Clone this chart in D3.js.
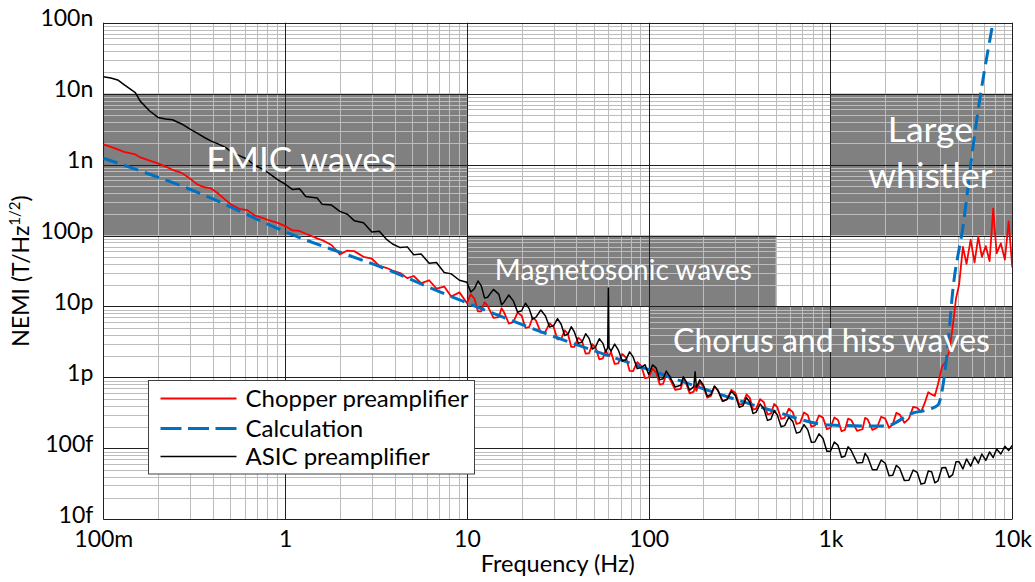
<!DOCTYPE html>
<html>
<head>
<meta charset="utf-8">
<script src="https://cdn.jsdelivr.net/npm/d3@7"></script>
<style>
  body { margin: 0; background: #fff; }
  text { font-family: Lato, "Open Sans", sans-serif; }
</style>
</head>
<body>
<svg id="chart" width="1035" height="582"></svg>
<script>
// measured spectra share one frequency grid (Hz)
const freq = [
  0.1, 0.11, 0.12, 0.13, 0.15, 0.16, 0.18, 0.2, 0.22, 0.24, 0.27, 0.3, 0.33, 0.36, 0.39, 0.43, 0.47, 0.51, 0.56, 0.62, 0.68, 0.75, 0.82, 0.91,
  1, 1.1, 1.2, 1.3, 1.5, 1.6, 1.8, 2, 2.2, 2.4, 2.7, 3, 3.3, 3.6, 3.9, 4.3, 4.7, 5.1, 5.6, 6.2, 6.8, 7.5, 8.2, 9.1,
  10, 10.5, 11, 11.5, 12, 12.5, 13, 14, 15, 15.5, 16, 17, 18, 19, 20, 21, 22, 23, 24, 25.5,
  27, 28.5, 30, 31.5, 33, 34.5, 36, 37.5, 39, 41, 43, 45, 47, 49, 51, 53.5, 56, 58, 59.5, 60,
  60.5, 62, 65, 68, 71.5, 75, 78.5, 82, 86.5, 91, 95.5,
  100, 105, 110, 115, 120, 125, 130, 140, 150, 155, 160, 168, 177, 180, 183, 191, 200, 210, 220, 230,
  240, 255, 270, 285, 300, 315, 330, 345, 360, 375, 390, 410, 430, 450, 470, 490, 510, 535, 560, 590,
  620, 650, 680, 715, 750, 785, 820, 865, 910, 955,
  1000, 1050, 1100, 1150, 1200, 1250, 1300, 1400, 1500, 1550, 1600, 1700, 1800, 1900, 2000, 2100, 2200, 2300, 2400, 2550,
  2700, 2850, 3000, 3150, 3300, 3450, 3600, 3750, 3900, 4100, 4300, 4500, 4700, 4900, 5100, 5350, 5600, 5900, 6200, 6500,
  6800, 7150, 7500, 7850, 8200, 8650, 9100, 9550,
  10000
];

// NEMI, T/Hz^1/2
const chopper = [
  1.93e-9, 1.78e-9, 1.64e-9, 1.51e-9, 1.39e-9, 1.26e-9, 1.14e-9, 1.04e-9, 9.38e-10, 8.45e-10, 7.64e-10, 6.35e-10, 5.21e-10, 4.79e-10, 4.65e-10, 3.87e-10, 3.18e-10, 2.68e-10, 2.38e-10, 2.28e-10, 1.92e-10, 1.77e-10, 1.63e-10, 1.51e-10,
  1.36e-10, 1.18e-10, 1.16e-10, 1.06e-10, 9.14e-11, 8.61e-11, 7.35e-11, 5.43e-11, 6.14e-11, 6.03e-11, 5.01e-11, 4.71e-11, 3.73e-11, 3.51e-11, 3.21e-11, 2.96e-11, 2.51e-11, 2.69e-11, 2.14e-11, 2.34e-11, 1.78e-11, 1.91e-11, 1.38e-11, 1.58e-11,
  1.12e-11, 1.48e-11, 1.29e-11, 8.51e-12, 8.51e-12, 1.15e-11, 1.02e-11, 6.92e-12, 7.08e-12, 9.44e-12, 8.32e-12, 5.75e-12, 6.03e-12, 8.22e-12, 7.41e-12, 5.01e-12, 5.13e-12, 7.00e-12, 6.31e-12, 4.27e-12,
  4.37e-12, 5.82e-12, 5.13e-12, 3.43e-12, 3.47e-12, 4.62e-12, 4.07e-12, 2.69e-12, 2.69e-12, 3.63e-12, 3.24e-12, 2.16e-12, 2.19e-12, 2.95e-12, 2.63e-12, 1.80e-12, 1.86e-12, 2.43e-12, 2.09e-12, 2.04e-12,
  2.0e-12, 2.29e-12, 1.55e-12, 1.58e-12, 2.14e-12, 1.91e-12, 1.24e-12, 1.23e-12, 1.64e-12, 1.45e-12, 9.77e-13,
  1.0e-12, 1.33e-12, 1.17e-12, 7.94e-13, 8.13e-13, 1.10e-12, 9.77e-13, 6.68e-13, 6.92e-13, 9.44e-13, 8.51e-13, 5.96e-13, 6.31e-13, 7.59e-13, 6.46e-13, 8.51e-13, 7.41e-13, 5.19e-13, 5.50e-13, 7.41e-13,
  6.61e-13, 4.62e-13, 4.90e-13, 6.68e-13, 6.03e-13, 4.12e-13, 4.27e-13, 5.75e-13, 5.13e-13, 3.51e-13, 3.63e-13, 4.95e-13, 4.47e-13, 3.02e-13, 3.09e-13, 4.22e-13, 3.80e-13, 2.60e-13, 2.69e-13, 3.63e-13,
  3.24e-13, 2.21e-13, 2.29e-13, 3.20e-13, 2.95e-13, 2.02e-13, 2.09e-13, 2.92e-13, 2.69e-13, 1.86e-13,
  1.95e-13, 2.72e-13, 2.51e-13, 1.74e-13, 1.82e-13, 2.63e-13, 2.51e-13, 1.76e-13, 1.86e-13, 2.69e-13, 2.57e-13, 1.82e-13, 1.95e-13, 2.79e-13, 2.63e-13, 1.95e-13, 2.19e-13, 3.16e-13, 3.02e-13, 2.29e-13,
  2.63e-13, 3.85e-13, 3.72e-13, 3.27e-13, 4.37e-13, 6.17e-13, 5.75e-13, 5.50e-13, 7.94e-13, 1.41e-12, 1.66e-12, 2.34e-12, 5.13e-12, 1.29e-11, 2.04e-11, 6.92e-11, 3.98e-11, 8.71e-11, 4.17e-11, 9.55e-11,
  5.01e-11, 7.08e-11, 4.37e-11, 2.40e-10, 5.62e-11, 7.76e-11, 4.57e-11, 1.58e-10,
  3.55e-11
];

const asic = [
  1.73e-8, 1.66e-8, 1.56e-8, 1.34e-8, 1.03e-8, 7.78e-9, 5.69e-9, 4.62e-9, 4.39e-9, 4.28e-9, 3.74e-9, 3.16e-9, 2.75e-9, 2.41e-9, 2.16e-9, 1.94e-9, 1.75e-9, 1.49e-9, 1.34e-9, 1.19e-9, 9.72e-10, 8.67e-10, 7.46e-10, 6.14e-10,
  5.32e-10, 4.45e-10, 4.57e-10, 3.55e-10, 3.39e-10, 2.75e-10, 2.69e-10, 2.19e-10, 2.0e-10, 1.62e-10, 1.51e-10, 1.12e-10, 1.15e-10, 8.91e-11, 7.59e-11, 6.76e-11, 6.92e-11, 5.37e-11, 5.50e-11, 4.07e-11, 4.17e-11, 3.02e-11, 2.88e-11, 2.34e-11,
  2.19e-11, 1.60e-11, 1.78e-11, 2.29e-11, 1.95e-11, 1.32e-11, 1.35e-11, 1.74e-11, 1.48e-11, 1.06e-11, 1.15e-11, 1.45e-11, 1.20e-11, 8.32e-12, 8.71e-12, 1.11e-11, 9.33e-12, 6.61e-12, 7.08e-12, 8.91e-12,
  7.41e-12, 5.13e-12, 5.37e-12, 6.76e-12, 5.62e-12, 3.89e-12, 4.07e-12, 5.19e-12, 4.37e-12, 3.02e-12, 3.16e-12, 4.12e-12, 3.55e-12, 2.51e-12, 2.69e-12, 3.51e-12, 3.02e-12, 2.29e-12, 2.63e-12, 1.82e-11,
  2.63e-12, 2.34e-12, 2.95e-12, 2.45e-12, 1.70e-12, 1.78e-12, 2.29e-12, 1.95e-12, 1.33e-12, 1.38e-12, 1.51e-12,
  1.10e-12, 1.50e-12, 1.35e-12, 9.23e-13, 9.55e-13, 1.23e-12, 1.05e-12, 7.33e-13, 7.76e-13, 1.02e-12, 8.91e-13, 6.61e-13, 7.41e-13, 1.20e-12, 7.24e-13, 9.23e-13, 7.76e-13, 5.43e-13, 5.75e-13, 7.59e-13,
  6.61e-13, 4.62e-13, 4.90e-13, 6.38e-13, 5.50e-13, 3.80e-13, 3.98e-13, 5.19e-13, 4.47e-13, 3.09e-13, 3.24e-13, 4.22e-13, 3.63e-13, 2.48e-13, 2.57e-13, 3.39e-13, 2.95e-13, 2.02e-13, 2.09e-13, 2.75e-13,
  2.40e-13, 1.64e-13, 1.70e-13, 2.16e-13, 1.82e-13, 1.22e-13, 1.23e-13, 1.60e-13, 1.38e-13, 9.12e-14,
  9.12e-14, 1.23e-13, 1.10e-13, 7.50e-14, 7.76e-14, 1.05e-13, 9.33e-14, 6.24e-14, 6.31e-14, 8.51e-14, 7.59e-14, 5.01e-14, 5.01e-14, 6.84e-14, 6.17e-14, 4.12e-14, 4.17e-14, 5.75e-14, 5.25e-14, 3.51e-14,
  3.55e-14, 4.95e-14, 4.57e-14, 3.13e-14, 3.24e-14, 4.79e-14, 4.68e-14, 3.27e-14, 3.47e-14, 5.31e-14, 5.37e-14, 3.89e-14, 4.27e-14, 6.46e-14, 6.46e-14, 5.13e-14, 7.08e-14, 5.62e-14, 7.59e-14, 6.17e-14,
  8.32e-14, 6.76e-14, 8.91e-14, 7.41e-14, 9.77e-14, 8.32e-14, 1.07e-13, 9.33e-14,
  1.10e-13
];

const calcFreq = [0.1, 0.34, 1, 3.9, 7.1, 28.6, 100, 209, 465, 1000, 2000, 2840, 3530, 3900, 4370, 4710, 5350, 6220, 7820];
const calc = [1.23e-9, 3.94e-10, 1.13e-10, 3.09e-11, 1.61e-11, 3.96e-12, 1.29e-12, 6.65e-13, 3.48e-13, 2.13e-13, 2.06e-13, 3.15e-13, 3.59e-13, 4.09e-13, 2.07e-12, 1.71e-11, 1.32e-10, 2.79e-9, 9.9e-8];

const xTicks = [0.1, 1, 10, 100, 1000, 10000];
const xTickLabels = ['100m', '1', '10', '100', '1k', '10k'];
const yTicks = [1e-14, 1e-13, 1e-12, 1e-11, 1e-10, 1e-9, 1e-8, 1e-7];
const yTickLabels = ['10f', '100f', '1p', '10p', '100p', '1n', '10n', '100n'];

// wave bands: frequency range and field range
const bandLines = [['EMIC waves'], ['Magnetosonic waves'], ['Chorus and hiss waves'], ['Large', 'whistler']];
const bandFreqLo = [0.1, 10, 100, 1000];
const bandFreqHi = [10, 500, 10000, 10000];
const bandLo = [1e-10, 1e-11, 1e-12, 1e-10];
const bandHi = [1e-8, 1e-10, 1e-11, 1e-8];

const seriesNames = ['Chopper preamplifier', 'Calculation', 'ASIC preamplifier'];

// layout
const plotLeft = 103.3, plotRight = 1012.3, plotTop = 22.7, plotBottom = 519.3;
const labelSize = [35, 28, 32, 35.5];
const labelDx = [16, 2, 1, 9];
const labelDy = [7.5, 9, 10, -22.8];
const lineGap = 46.6;

const svg = d3.select('#chart');

const x = d3.scaleLog().domain([0.1, 10000]).range([plotLeft, plotRight]);
const y = d3.scaleLog().domain([1e-14, 1e-7]).range([plotBottom, plotTop]);

const snap = v => Math.round(v) + 0.5;
const isDecade = d => Math.abs(Math.log10(d) - Math.round(Math.log10(d))) < 1e-9;

// grey wave bands
svg.append('g').selectAll('rect')
  .data(bandLines)
  .join('rect')
  .attr('x', (d, i) => x(bandFreqLo[i]))
  .attr('y', (d, i) => y(bandHi[i]))
  .attr('width', (d, i) => x(bandFreqHi[i]) - x(bandFreqLo[i]))
  .attr('height', (d, i) => y(bandLo[i]) - y(bandHi[i]))
  .attr('fill', '#808080');

// minor grid then major grid
const xGrid = x.ticks();
const yGrid = y.ticks();

const grid = svg.append('g');
grid.selectAll('.vminor')
  .data(xGrid.filter(d => !isDecade(d)))
  .join('line')
  .attr('x1', d => snap(x(d))).attr('x2', d => snap(x(d)))
  .attr('y1', plotTop).attr('y2', plotBottom)
  .attr('stroke', '#bcbcbc').attr('stroke-width', 1);
grid.selectAll('.hminor')
  .data(yGrid.filter(d => !isDecade(d)))
  .join('line')
  .attr('x1', plotLeft).attr('x2', plotRight)
  .attr('y1', d => snap(y(d))).attr('y2', d => snap(y(d)))
  .attr('stroke', '#bcbcbc').attr('stroke-width', 1);
grid.selectAll('.vmajor')
  .data(xTicks)
  .join('line')
  .attr('x1', d => snap(x(d))).attr('x2', d => snap(x(d)))
  .attr('y1', plotTop).attr('y2', plotBottom)
  .attr('stroke', '#202020').attr('stroke-width', 1);
grid.selectAll('.hmajor')
  .data(yTicks)
  .join('line')
  .attr('x1', plotLeft).attr('x2', plotRight)
  .attr('y1', d => snap(y(d))).attr('y2', d => snap(y(d)))
  .attr('stroke', '#202020').attr('stroke-width', 1);

// axes (labels only)
const xAxis = svg.append('g')
  .attr('transform', `translate(0,${plotBottom})`)
  .call(d3.axisBottom(x).tickValues(xTicks).tickFormat((d, i) => xTickLabels[i]).tickSize(0).tickPadding(11));
const yAxis = svg.append('g')
  .attr('transform', `translate(${plotLeft},0)`)
  .call(d3.axisLeft(y).tickValues(yTicks).tickFormat((d, i) => yTickLabels[i]).tickSize(0).tickPadding(10));
[xAxis, yAxis].forEach(g => {
  g.select('.domain').remove();
  g.selectAll('text')
    .attr('font-size', 23)
    .attr('font-family', 'Lato, "Open Sans", sans-serif')
    .attr('fill', '#000');
});
yAxis.selectAll('text').attr('dy', '0.12em');

// curves
svg.append('clipPath').attr('id', 'plot-clip')
  .append('rect')
  .attr('x', plotLeft).attr('y', plotTop)
  .attr('width', plotRight - plotLeft).attr('height', plotBottom - plotTop);

const line = d3.line()
  .x(d => x(d[0]))
  .y(d => y(d[1]));

const curves = svg.append('g').attr('clip-path', 'url(#plot-clip)');

curves.append('path')
  .datum(d3.zip(freq, chopper))
  .attr('d', line)
  .attr('fill', 'none')
  .attr('stroke', '#ff0000')
  .attr('stroke-width', 1.8)
  .attr('stroke-linejoin', 'round');

curves.append('path')
  .datum(d3.zip(calcFreq, calc))
  .attr('d', line.curve(d3.curveMonotoneX))
  .attr('fill', 'none')
  .attr('stroke', '#0070c0')
  .attr('stroke-width', 3)
  .attr('stroke-dasharray', '15,7');
line.curve(d3.curveLinear);

curves.append('path')
  .datum(d3.zip(freq, asic))
  .attr('d', line)
  .attr('fill', 'none')
  .attr('stroke', '#000')
  .attr('stroke-width', 1.5)
  .attr('stroke-linejoin', 'round');

// band labels
bandLines.forEach((lines, i) => {
  const cx = (x(bandFreqLo[i]) + x(bandFreqHi[i])) / 2 + labelDx[i];
  const cy = (y(bandLo[i]) + y(bandHi[i])) / 2 + labelDy[i];
  const t = svg.append('text')
    .attr('x', cx)
    .attr('y', cy)
    .attr('text-anchor', 'middle')
    .attr('font-size', labelSize[i])
    .attr('fill', '#fff');
  lines.forEach((s, j) => {
    t.append('tspan')
      .attr('x', cx)
      .attr('dy', j === 0 ? 0 : lineGap)
      .text(s);
  });
});

// axis titles
svg.append('text')
  .attr('x', (plotLeft + plotRight) / 2)
  .attr('y', 571.7)
  .attr('text-anchor', 'middle')
  .attr('font-size', 23.5)
  .text('Frequency (Hz)');

const yTitle = svg.append('text')
  .attr('transform', `translate(29,${(plotTop + plotBottom) / 2}) rotate(-90)`)
  .attr('text-anchor', 'middle')
  .attr('font-size', 23);
yTitle.append('tspan').text('NEMI (T/Hz');
yTitle.append('tspan').attr('font-size', 15).attr('dy', -9).text('1/2');
yTitle.append('tspan').attr('dy', 9).text(')');

// legend
const legend = svg.append('g').attr('transform', 'translate(148.5,380.5)');
legend.append('rect')
  .attr('width', 326).attr('height', 93.5)
  .attr('fill', '#fff').attr('stroke', '#404040').attr('stroke-width', 1);

const legendColor = ['#ff0000', '#0070c0', '#000'];
const legendWidth = [1.8, 3, 1.5];
const legendDash = [null, '21,6.5', null];
const legendY = [18, 48, 76];

seriesNames.forEach((name, i) => {
  legend.append('line')
    .attr('x1', 12).attr('x2', 88)
    .attr('y1', legendY[i]).attr('y2', legendY[i])
    .attr('stroke', legendColor[i])
    .attr('stroke-width', legendWidth[i])
    .attr('stroke-dasharray', legendDash[i]);
  legend.append('text')
    .attr('x', 97)
    .attr('y', legendY[i] + 8.5)
    .attr('font-size', 24)
    .text(name);
});
</script>
</body>
</html>
